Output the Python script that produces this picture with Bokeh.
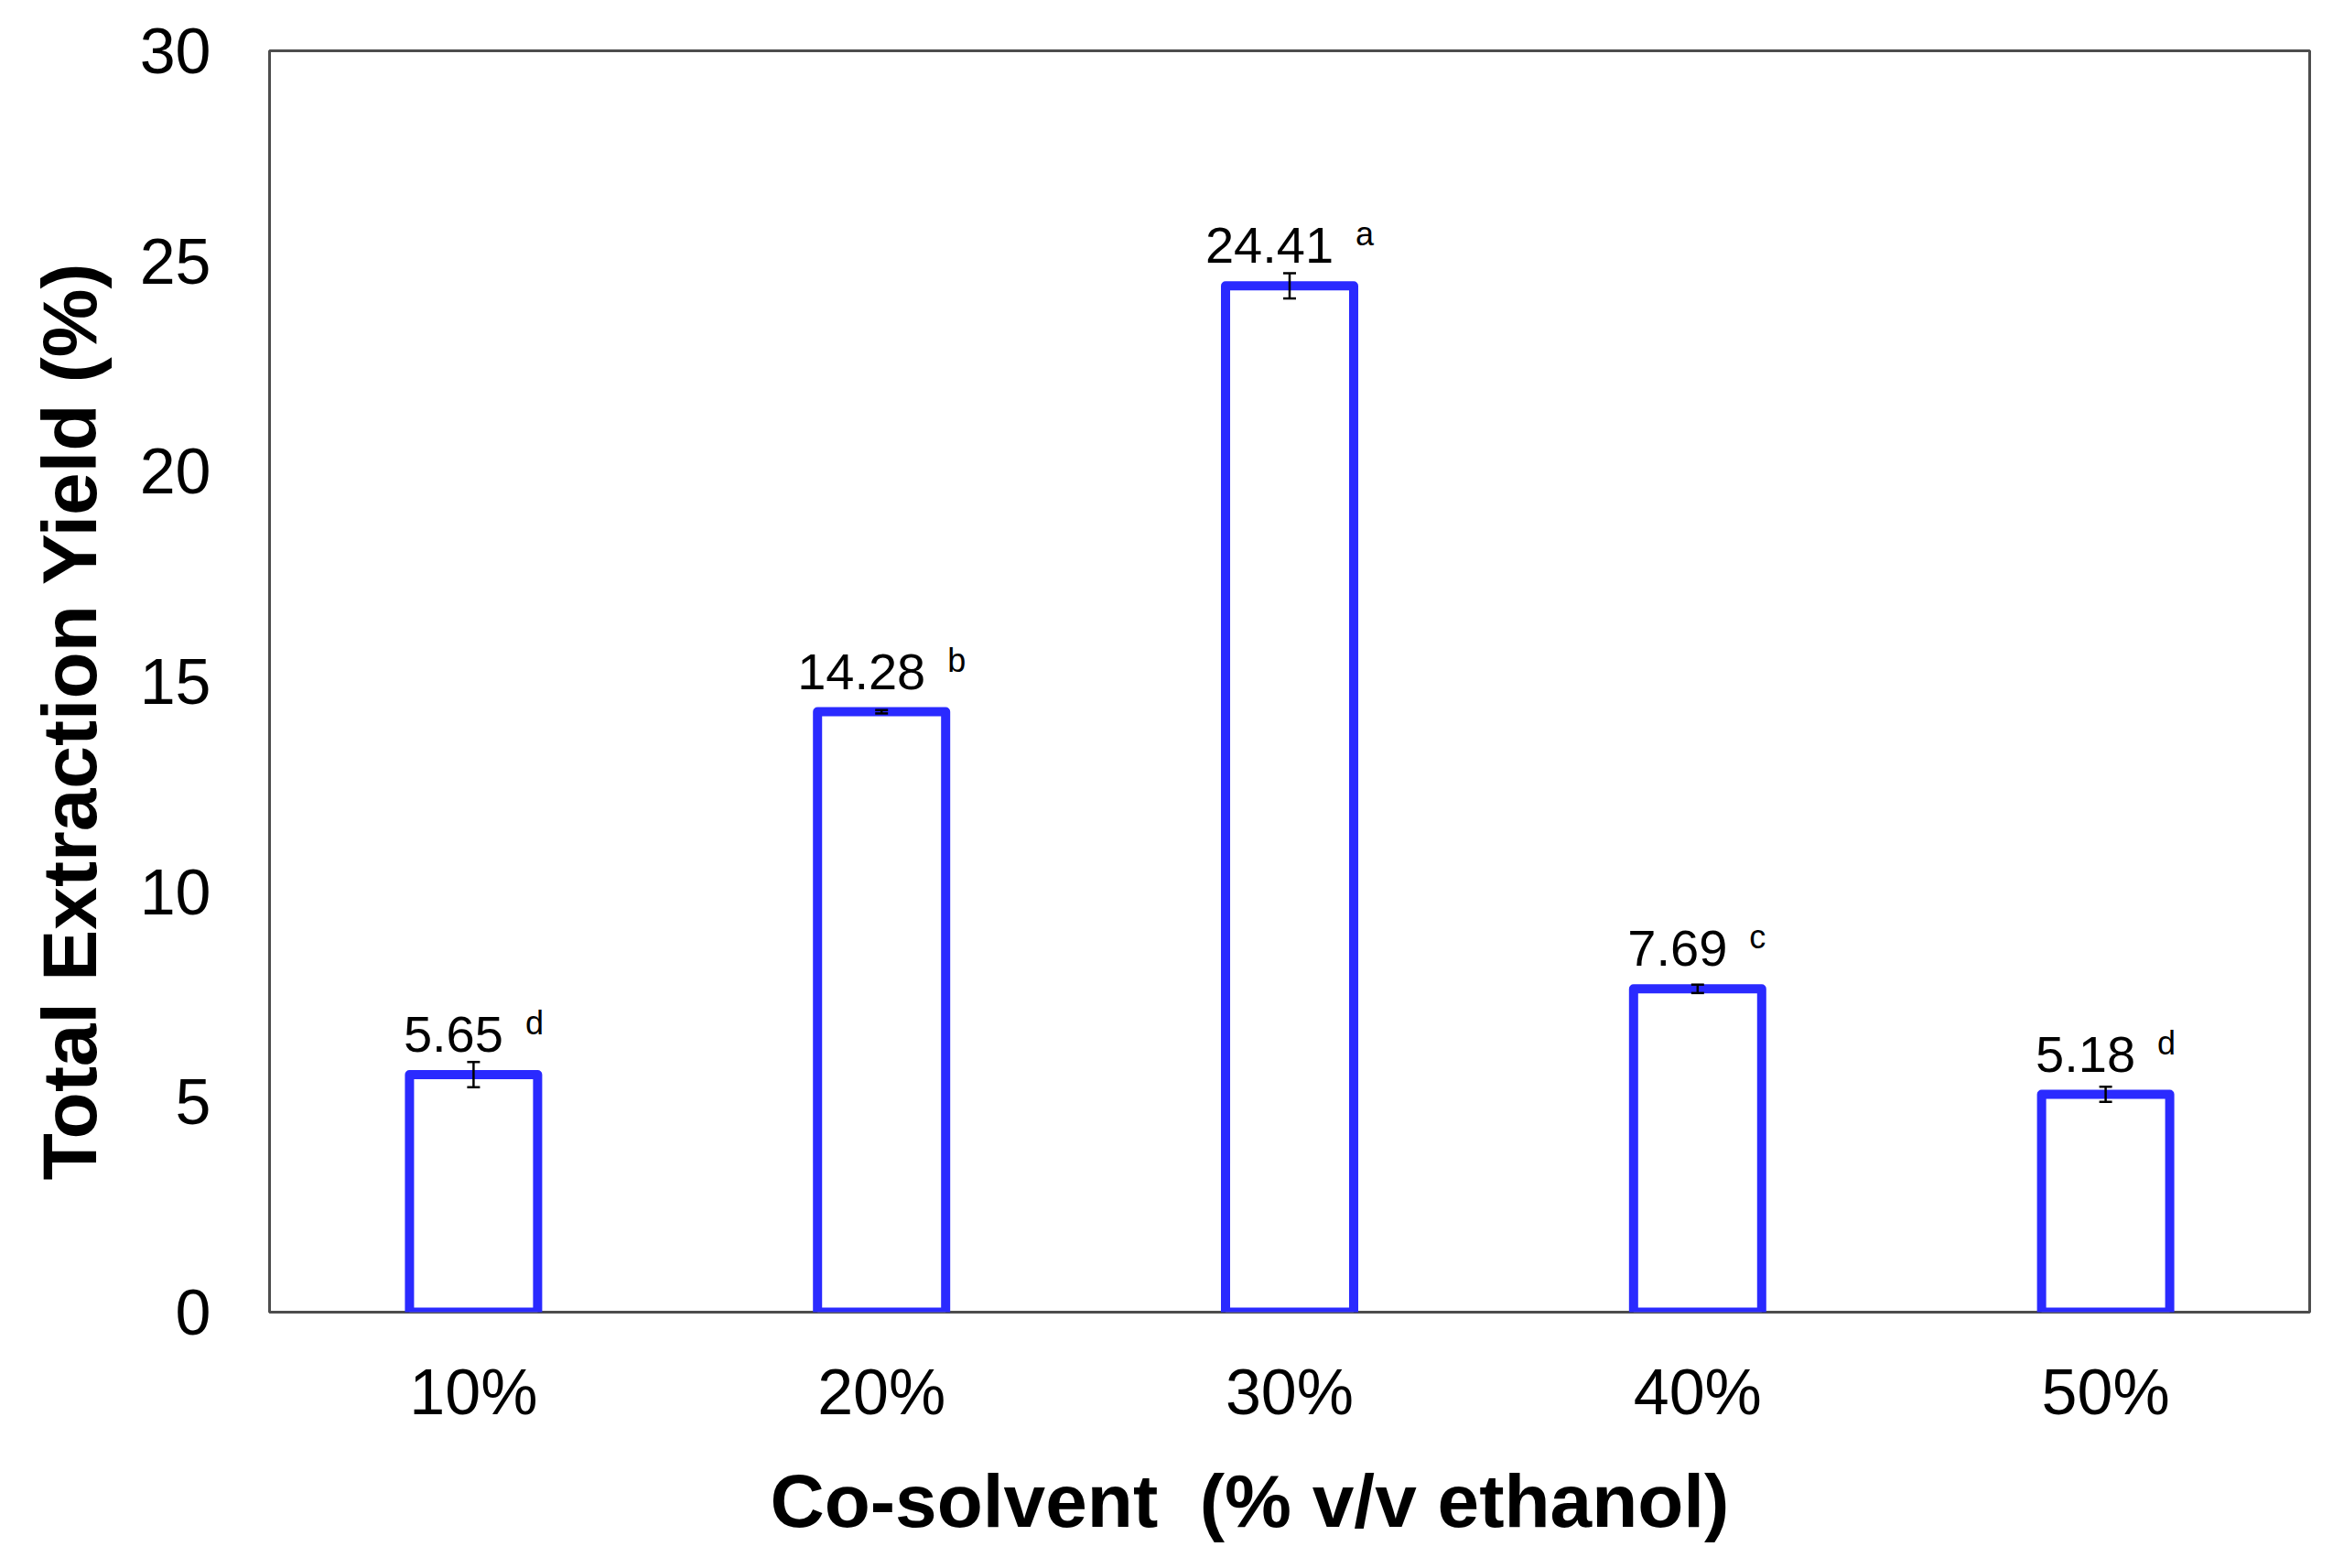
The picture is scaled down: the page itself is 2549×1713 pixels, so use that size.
from bokeh.plotting import figure
from bokeh.models import (ColumnDataSource, FactorRange, Range1d, FixedTicker,
                          LabelSet, Whisker, TeeHead, Title)
from bokeh.core.properties import value
from bokeh.embed import file_html
from bokeh.resources import INLINE

# ---- data ----
categories = ["10%", "20%", "30%", "40%", "50%"]
yields = [5.65, 14.28, 24.41, 7.69, 5.18]
errors = [0.30, 0.04, 0.30, 0.10, 0.18]
letters = ["d", "b", "a", "c", "d"]
y_ticks = [0, 5, 10, 15, 20, 25, 30]

# ---- styling constants ----
SANS = "Liberation Sans"
BLUE = "#2a2aff"
NUM_FS = 56
SUP_FS = 36
GAP = 24

def arial_width(s, fs):
    w = 0.0
    for ch in s:
        w += 0.278 if ch == "." else 0.556
    return w * fs

num_text = [f"{v:.2f}" for v in yields]
num_w = [arial_width(t, NUM_FS) for t in num_text]
sup_w = [0.556 * SUP_FS for _ in letters]
total_w = [n + GAP + s for n, s in zip(num_w, sup_w)]
num_xoff = [-t / 2 for t in total_w]
sup_xoff = [-t / 2 + n + GAP for t, n in zip(total_w, num_w)]

src = ColumnDataSource(data=dict(
    x=categories, y=yields,
    upper=[v + e for v, e in zip(yields, errors)],
    lower=[v - e for v, e in zip(yields, errors)],
    num=num_text, sup=letters, num_xoff=num_xoff, sup_xoff=sup_xoff,
))

W, H = 2549, 1713
p = figure(x_range=FactorRange(*categories), y_range=Range1d(0, 30),
           width=W, height=H, output_backend="svg", toolbar_location=None,
           min_border_left=292, min_border_right=W - 2523, min_border_top=55,
           min_border_bottom=H - 1433)

p.vbar(x="x", top="y", bottom=0, width=0.314, source=src,
       fill_color="white", line_color=BLUE, line_width=10, line_join="round")

whisk = Whisker(source=src, base="x", upper="upper", lower="lower",
                dimension="height", line_color="black", line_width=2.5,
                level="annotation",
                upper_head=TeeHead(size=14, line_width=2.5, line_color="black"),
                lower_head=TeeHead(size=14, line_width=2.5, line_color="black"))
p.add_layout(whisk)

p.add_layout(LabelSet(x="x", y="y", text="num", source=src, x_offset="num_xoff",
                      y_offset=25, text_align="left", text_baseline="alphabetic",
                      text_font=value(SANS), text_font_size=value(f"{NUM_FS}px"),
                      text_color="black"))
p.add_layout(LabelSet(x="x", y="y", text="sup", source=src, x_offset="sup_xoff",
                      y_offset=44, text_align="left", text_baseline="alphabetic",
                      text_font=value(SANS), text_font_size=value(f"{SUP_FS}px"),
                      text_color="black"))

# axes styling
p.xgrid.grid_line_color = None
p.ygrid.grid_line_color = None
p.outline_line_color = "#4d4d4d"
p.outline_line_width = 3
p.background_fill_color = "white"
p.border_fill_color = "white"

for ax in (p.xaxis[0], p.yaxis[0]):
    ax.axis_line_color = None
    ax.major_tick_line_color = None
    ax.minor_tick_line_color = None
    ax.major_tick_out = 0
    ax.major_tick_in = 0
    ax.major_label_text_font = SANS
    ax.major_label_text_font_size = "70px"
    ax.major_label_text_color = "black"
    ax.axis_label = None

p.yaxis[0].ticker = FixedTicker(ticks=y_ticks)
p.yaxis[0].major_label_standoff = 64
p.xaxis[0].major_label_standoff = 48

# axis titles as side-panel titles (positioned along the frame)
p.add_layout(Title(text="Total Extraction Yield (%)", align="left", offset=144,
                   standoff=53, text_font=SANS, text_font_style="bold",
                   text_font_size="84px", text_color="black"), "left")
p.add_layout(Title(text="Co-solvent\u00a0 (% v/v ethanol)", align="left", offset=547,
                   standoff=58, text_font=SANS, text_font_style="bold",
                   text_font_size="82px", text_color="black"), "below")

open("out.html", "w").write(file_html(p, INLINE))
